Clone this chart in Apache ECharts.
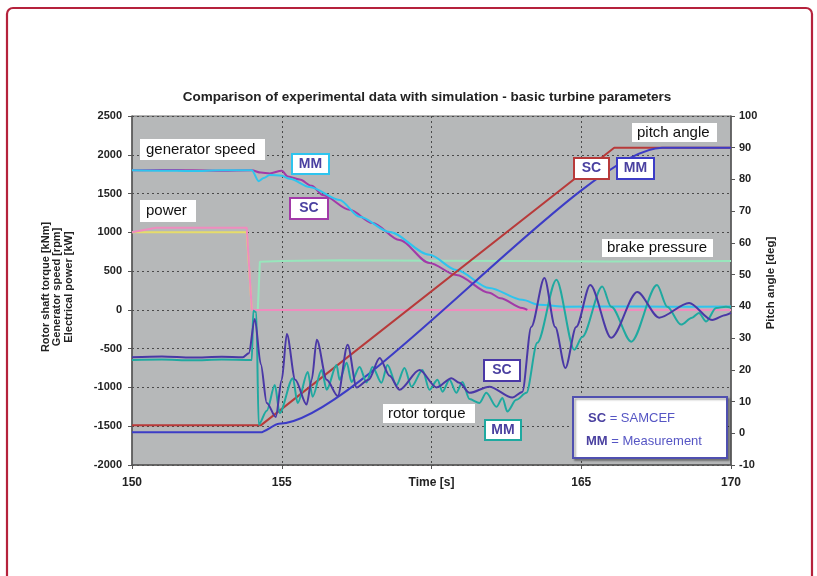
<!DOCTYPE html>
<html>
<head>
<meta charset="utf-8">
<script src="https://cdn.jsdelivr.net/npm/echarts@6/dist/echarts.min.js"></script>
<style>
html,body{margin:0;padding:0;background:#fff;}
#c{width:817px;height:576px;}
</style>
</head>
<body>
<div id="c"></div>
<script>
// ---- data (time [s], value) ----
const titleText = 'Comparison of experimental data with simulation - basic turbine parameters';
const xTicks = [150, 155, 160, 165, 170];
const xMidName = 'Time [s]';
const leftAxisNames = ['Rotor shaft torque [kNm]', 'Generator speed [rpm]', 'Electrical power [kW]'];
const rightAxisName = 'Pitch angle [deg]';

const speedSC = [[150,1800],[151,1805],[152,1800],[153,1795],[154,1800],[154.3,1770],[154.6,1760],[155.0,1795],[155.2,1720],[155.6,1680],[156.0,1600],[156.37,1480],[157.27,1290],[158.03,1120],[158.93,900],[159.93,605],[160.83,450],[161.93,220],[162.3,150],[163.03,25],[163.2,0]];
const speedMM = [[150,1800],[151,1795],[152,1790],[153,1800],[154.0,1800],[154.23,1660],[154.4,1700],[154.6,1740],[155.0,1730],[155.27,1690],[155.93,1585],[156.93,1418],[157.6,1200],[158.6,1005],[159.93,710],[160.83,515],[161.93,283],[163.03,130],[163.6,65],[164.5,40],[166,45],[168,40],[170,45]];
const powerSC = [[150,1000],[150.8,1060],[153.83,1060],[154.0,0],[170,0]];
const powerMM = [[150,1000],[153.83,1000],[154.0,0],[154.2,0]];
const brake = [[154.2,0],[154.27,620],[155,630],[157,640],[160,635],[163,630],[166,625],[170,630]];
const pitchSC = [[150,2.5],[154.3,2.5],[166.1,90],[170,90]];
const pitchMM = [[150,0.3],[154.3,0.3],[154.9,3],[167.7,90],[170,90]];
const torqueSC = [[150,-610],[151,-600],[152,-615],[153,-605],[153.7,-610],[153.9,-560],[154.1,-116],[154.3,-700],[154.5,-1200],[154.8,-1380],[155.0,-900],[155.17,-310],[155.45,-900],[155.83,-1220],[156.0,-900],[156.17,-385],[156.5,-900],[156.87,-1110],[157.2,-450],[157.5,-1000],[157.9,-900],[158.27,-620],[158.6,-850],[158.93,-1030],[159.6,-775],[160.17,-1000],[160.67,-880],[160.93,-940],[161.27,-1070],[161.93,-990],[162.7,-1130],[163.03,-1060],[163.33,-220],[163.77,410],[164.13,-220],[164.47,-750],[164.83,-220],[165.3,320],[166.0,-360],[166.87,230],[167.6,-100],[168.6,90],[169.37,-130],[169.83,-65],[170,-40]];
const torqueMM = [[150,-645],[151,-640],[152,-650],[153,-640],[154.0,-645],[154.05,-10],[154.15,-30],[154.23,-1480],[154.5,-1300],[154.77,-970],[154.93,-1330],[155.37,-880],[155.53,-1200],[155.87,-800],[156.03,-1120],[156.33,-775],[156.5,-1030],[156.83,-710],[156.93,-900],[157.17,-680],[157.33,-930],[157.6,-735],[157.83,-935],[158.03,-735],[158.33,-940],[158.53,-710],[158.83,-970],[159.1,-750],[159.33,-990],[159.7,-775],[159.93,-1030],[160.2,-900],[160.37,-1055],[160.6,-900],[160.83,-1070],[161.03,-930],[161.27,-1150],[161.6,-1200],[161.83,-1070],[162.17,-1250],[162.37,-1135],[162.53,-1310],[162.83,-1160],[163.17,-1070],[163.53,-425],[164.17,390],[164.77,-515],[165.03,-350],[165.7,300],[166.0,40],[166.67,-410],[167.53,320],[167.87,40],[168.33,-190],[168.7,-100],[168.93,-40],[169.17,-150],[169.5,25],[169.83,40],[170,30]];

// ---- colours ----
const C = {
  speedSC:'#a23aa8', speedMM:'#2ec4ee', powerSC:'#f08cbe', powerMM:'#e6dc6a',
  brake:'#98e6bc', pitchSC:'#b83a3a', pitchMM:'#3c3cc6', torqueSC:'#4a38a6', torqueMM:'#1fa9a0',
  ink:'#4a40a0'
};

const chart = echarts.init(document.getElementById('c'), null, {renderer:'canvas'});

function line(name, data, color, yIdx, smooth, z){
  return {name, type:'line', data, yAxisIndex:yIdx||0, showSymbol:false, symbol:'none',
    smooth: smooth||0, smoothMonotone:'x', lineStyle:{color, width:2}, itemStyle:{color}, z: z||2, silent:true};
}

const FONT = 'Liberation Sans, Arial, sans-serif';

function labelBox(x,y,w,h,text,opts){
  opts = opts||{};
  const els = [{type:'rect', shape:{x,y,width:w,height:h}, style:{fill:'#fff', stroke:opts.stroke||null, lineWidth:opts.stroke?2:0}, z:50}];
  els.push({type:'text', x: opts.center ? x+w/2 : x+(opts.pad||6), y: y+h/2,
    style:{text, fill: opts.color||'#111', font:(opts.font||'15px '+FONT), textAlign: opts.center?'center':'left', textVerticalAlign:'middle'}, z:51});
  return els;
}

let graphics = [];
graphics.push({type:'rect', shape:{x:7,y:8,width:805,height:640,r:6}, style:{fill:null, stroke:'#b5223c', lineWidth:2.2}, z:1});
graphics.push({type:'text', x:427, y:97, style:{text:titleText, fill:'#222', font:'bold 13.5px '+FONT, textAlign:'center', textVerticalAlign:'middle'}, z:60});
const lx = [45.5, 57, 68.5];
leftAxisNames.forEach((t,i)=>{
  graphics.push({type:'text', x:lx[i], y:287, rotation:Math.PI/2, style:{text:t, fill:'#222', font:'bold 11px '+FONT, textAlign:'center', textVerticalAlign:'middle'}, z:60});
});
graphics.push({type:'text', x:771, y:283, rotation:Math.PI/2, style:{text:rightAxisName, fill:'#222', font:'bold 11.5px '+FONT, textAlign:'center', textVerticalAlign:'middle'}, z:60});

graphics = graphics.concat(
  labelBox(140,139,125,21,'generator speed'),
  labelBox(140,200,56,22,'power'),
  labelBox(632,123,85,19,'pitch angle',{pad:5}),
  labelBox(602,239,111,18,'brake pressure',{pad:5}),
  labelBox(383,404,92,19,'rotor torque',{pad:5}),
  labelBox(292,154,37,20,'MM',{stroke:C.speedMM, center:true, color:C.ink, font:'bold 14px '+FONT}),
  labelBox(290,198,38,21,'SC',{stroke:C.speedSC, center:true, color:C.ink, font:'bold 14px '+FONT}),
  labelBox(574,158,35,21,'SC',{stroke:C.pitchSC, center:true, color:C.ink, font:'bold 14px '+FONT}),
  labelBox(617,158,37,21,'MM',{stroke:C.pitchMM, center:true, color:C.ink, font:'bold 14px '+FONT}),
  labelBox(484,360,36,21,'SC',{stroke:C.torqueSC, center:true, color:C.ink, font:'bold 14px '+FONT}),
  labelBox(485,420,36,20,'MM',{stroke:C.torqueMM, center:true, color:C.ink, font:'bold 14px '+FONT})
);
graphics.push({type:'rect', shape:{x:573,y:397,width:154,height:61}, style:{fill:'#fff', stroke:'#5050b0', lineWidth:2, shadowBlur:2, shadowOffsetX:2, shadowOffsetY:2, shadowColor:'rgba(0,0,0,0.3)'}, z:50});
graphics.push({type:'text', x:588, y:418, style:{text:'{b|SC} = SAMCEF', fill:'#5656c4', font:'13px '+FONT, textVerticalAlign:'middle', rich:{b:{fontWeight:'bold', fill:C.ink, fontSize:13, fontFamily:FONT}}}, z:51});
graphics.push({type:'text', x:586, y:441, style:{text:'{b|MM} = Measurement', fill:'#5656c4', font:'13px '+FONT, textVerticalAlign:'middle', rich:{b:{fontWeight:'bold', fill:C.ink, fontSize:13, fontFamily:FONT}}}, z:51});

const grid = {left:132, right:86, top:116, bottom:111, show:true, backgroundColor:'#b6b8b9', borderColor:'#6a6a6a', borderWidth:1};
const dotted = {show:true, lineStyle:{color:'#4a4a4a', type:[2,3], width:1}};

chart.setOption({
  animation:false,
  backgroundColor:'#fff',
  grid,
  xAxis:{type:'value', min:xTicks[0], max:xTicks[xTicks.length-1], interval:5,
    axisLine:{show:true, onZero:false, lineStyle:{color:'#555', width:1.5}},
    axisTick:{show:true, length:4, lineStyle:{color:'#555'}},
    axisLabel:{color:'#222', fontWeight:'bold', fontSize:12, fontFamily:FONT, margin:12,
      formatter:v=> v===160 ? xMidName : String(v)},
    splitLine:Object.assign({showMinLine:false, showMaxLine:false}, dotted)},
  yAxis:[
    {type:'value', min:-2000, max:2500, interval:500, position:'left',
      axisLine:{show:true, onZero:false, lineStyle:{color:'#555', width:1.5}},
      axisTick:{show:true, length:4, lineStyle:{color:'#555'}},
      axisLabel:{color:'#222', fontWeight:'bold', fontSize:11, fontFamily:FONT, margin:10, formatter:v=>String(v)},
      splitLine:dotted},
    {type:'value', min:-10, max:100, interval:10, position:'right',
      axisLine:{show:true, onZero:false, lineStyle:{color:'#555', width:1.5}},
      axisTick:{show:true, length:4, lineStyle:{color:'#555'}},
      axisLabel:{color:'#222', fontWeight:'bold', fontSize:11, fontFamily:FONT, margin:8, formatter:v=>String(v)},
      splitLine:{show:false}}
  ],
  series:[
    line('brake', brake, C.brake, 0, 0, 2),
    line('powerMM', powerMM, C.powerMM, 0, 0, 3),
    line('powerSC', powerSC, C.powerSC, 0, 0, 3),
    line('speedSC', speedSC, C.speedSC, 0, 0.3, 4),
    line('speedMM', speedMM, C.speedMM, 0, 0.3, 4),
    line('pitchSC', pitchSC, C.pitchSC, 1, 0, 5),
    line('pitchMM', pitchMM, C.pitchMM, 1, 0.2, 5),
    line('torqueMM', torqueMM, C.torqueMM, 0, 0.3, 6),
    line('torqueSC', torqueSC, C.torqueSC, 0, 0.3, 6)
  ],
  graphic:graphics
});
</script>
</body>
</html>
